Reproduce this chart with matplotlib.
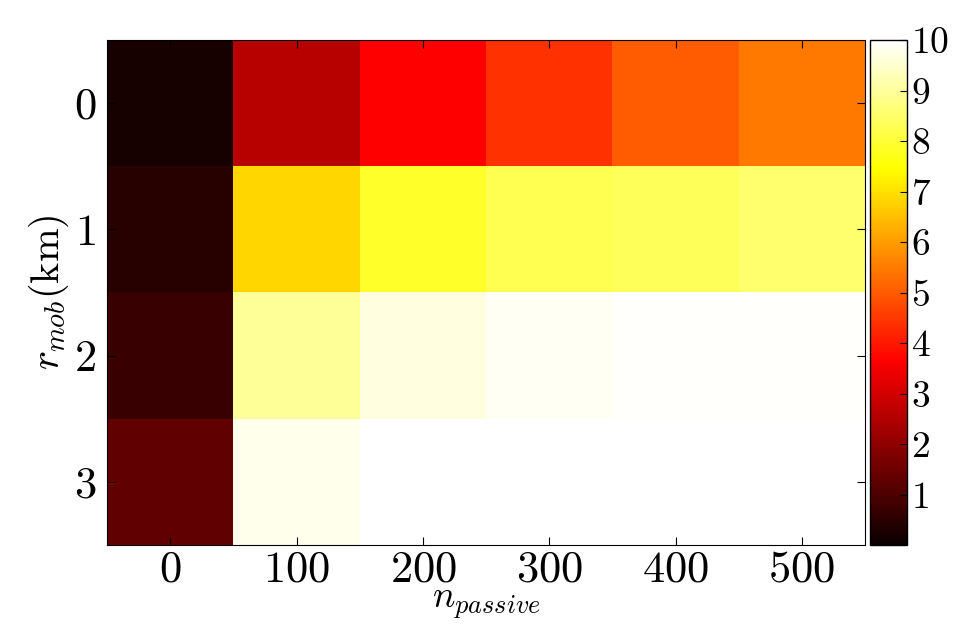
import matplotlib
matplotlib.use("Agg")
import matplotlib.pyplot as plt
import numpy as np

n_passive = [0, 100, 200, 300, 400, 500]
r_mob = [0, 1, 2, 3]
values = [
    [0.2, 2.6, 3.65, 4.4, 5.0, 5.45],
    [0.43, 6.85, 7.86, 8.25, 8.35, 8.55],
    [0.72, 8.95, 9.65, 9.85, 9.93, 9.93],
    [1.29, 9.8, 10.0, 10.0, 10.0, 10.0],
]
cbar_ticks = [1, 2, 3, 4, 5, 6, 7, 8, 9, 10]

plt.rcParams['mathtext.fontset'] = 'cm'
plt.rcParams['font.family'] = 'serif'
plt.rcParams['font.serif'] = ['cmr10', 'DejaVu Serif']
plt.rcParams['axes.formatter.use_mathtext'] = True

fig = plt.figure(figsize=(9.57, 6.25), dpi=100)
ax = fig.add_axes([0.112, 0.128, 0.792, 0.808])
cax = fig.add_axes([0.909, 0.128, 0.039, 0.808])

data = np.array(values)
dx = n_passive[1] - n_passive[0]
im = ax.imshow(data, cmap='hot', vmin=0, vmax=10, aspect='auto',
               interpolation='nearest',
               extent=[n_passive[0] - dx / 2, n_passive[-1] + dx / 2,
                       r_mob[-1] + 0.5, r_mob[0] - 0.5])
ax.set_xticks(n_passive)
ax.set_xticklabels([f"${v}$" for v in n_passive])
ax.set_yticks(r_mob)
ax.set_yticklabels([f"${v}$" for v in r_mob])
ax.tick_params(direction='in', top=True, right=True, labelsize=32, length=6)
ax.tick_params(axis='x', pad=4)
ax.tick_params(axis='y', pad=8)
ax.set_xlabel(r"$n_{passive}$", fontsize=27, labelpad=-2)
ax.set_ylabel(r"$r_{mob}(\mathrm{km})$", fontsize=29, labelpad=2)

cb = fig.colorbar(im, cax=cax, ticks=cbar_ticks)
cb.ax.set_yticklabels([f"${v}$" for v in cbar_ticks])
cb.ax.tick_params(direction='in', labelsize=27, length=5, pad=3)
cb.outline.set_linewidth(1.0)

fig.savefig("out.png", dpi=100)
